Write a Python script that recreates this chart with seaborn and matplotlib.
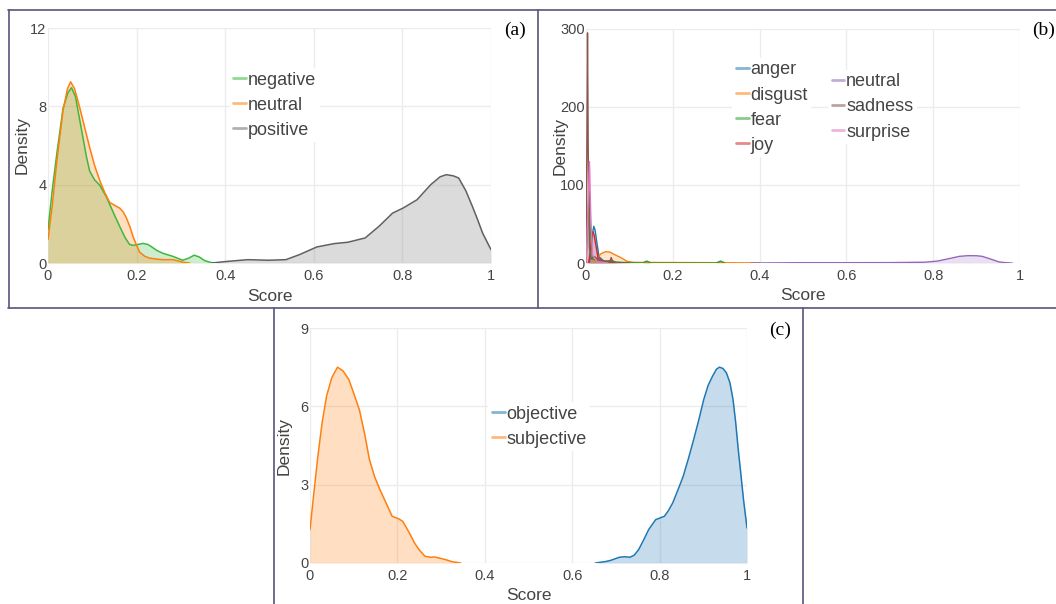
import numpy as np
import matplotlib
matplotlib.use("Agg")
import matplotlib.pyplot as plt
from matplotlib.lines import Line2D
import seaborn as sns

# ---- panel (a): sentiment score densities ----
neg_x = [0, 0.01, 0.02, 0.034, 0.045, 0.053, 0.062, 0.07, 0.079, 0.087, 0.094, 0.105, 0.117,
         0.132, 0.147, 0.162, 0.174, 0.184, 0.192, 0.2, 0.214, 0.225, 0.233, 0.245, 0.259,
         0.27, 0.282, 0.295, 0.304, 0.318, 0.33, 0.342, 0.353, 0.365, 0.375]
neg_y = [1.7, 3.8, 5.6, 7.9, 8.7, 8.95, 8.5, 7.5, 6.4, 5.4, 4.7, 4.25, 3.97,
         3.37, 2.6, 1.86, 1.3, 0.95, 0.9, 0.93, 1.0, 0.95, 0.84, 0.65, 0.5,
         0.42, 0.34, 0.22, 0.14, 0.25, 0.4, 0.3, 0.13, 0.04, 0]
neu_x = [0, 0.01, 0.0195, 0.034, 0.044, 0.051, 0.06, 0.072, 0.083, 0.094, 0.105, 0.117, 0.128,
         0.139, 0.15, 0.162, 0.17, 0.177, 0.185, 0.192, 0.2, 0.207, 0.218, 0.229, 0.245, 0.259,
         0.282, 0.295, 0.304, 0.32]
neu_y = [1.2, 3.0, 5.1, 7.8, 8.9, 9.25, 8.9, 7.9, 6.9, 5.9, 5.0, 4.2, 3.6,
         3.1, 2.95, 2.8, 2.6, 2.3, 1.85, 1.35, 0.9, 0.55, 0.35, 0.25, 0.2, 0.17,
         0.17, 0.1, 0.04, 0]
pos_x = [0.37, 0.404, 0.451, 0.498, 0.537, 0.568, 0.607, 0.646, 0.677, 0.716, 0.747, 0.778,
         0.802, 0.833, 0.864, 0.885, 0.899, 0.915, 0.927, 0.943, 0.958, 0.97, 0.981, 1.0]
pos_y = [0, 0.08, 0.17, 0.14, 0.17, 0.43, 0.82, 0.99, 1.06, 1.28, 1.87, 2.55,
         2.81, 3.23, 4.0, 4.4, 4.51, 4.45, 4.34, 3.7, 2.89, 2.2, 1.53, 0.68]

# ---- panel (b): emotion score densities ----
anger_x = [0.008, 0.012, 0.015, 0.018, 0.021, 0.024, 0.03, 0.04, 0.06, 0.1, 0.135, 0.14, 0.145, 0.2]
anger_y = [0, 20, 38, 47, 42, 30, 8, 3, 1, 0, 0, 1.5, 0, 0]
disgust_x = [0.01, 0.025, 0.035, 0.045, 0.055, 0.065, 0.08, 0.095, 0.11, 0.2, 0.3, 0.4]
disgust_y = [0, 6, 12, 14.5, 14, 11, 7, 2, 0.8, 0.6, 0.4, 0.1]
fear_x = [0, 0.004, 0.007, 0.01, 0.015, 0.03, 0.06, 0.07, 0.13, 0.14, 0.15, 0.3, 0.31, 0.32]
fear_y = [0, 50, 92, 40, 5, 2, 3, 1, 0, 2.5, 0, 0, 2.5, 0]
joy_x = [0.006, 0.01, 0.013, 0.016, 0.019, 0.022, 0.028, 0.04, 0.06, 0.07]
joy_y = [0, 15, 32, 40, 35, 25, 6, 2, 1, 0]
neutral_x = [0.38, 0.5, 0.6, 0.7, 0.78, 0.81, 0.84, 0.86, 0.88, 0.9, 0.913, 0.93, 0.951, 0.965, 0.982]
neutral_y = [0, 0.4, 0.4, 0.5, 1.0, 2.5, 6, 8.5, 9.4, 9.3, 8.5, 5.5, 1.5, 0.5, 0]
sadness_x = [0, 0.002, 0.0035, 0.005, 0.008, 0.012, 0.02, 0.03, 0.045, 0.055, 0.058, 0.062, 0.07, 0.1]
sadness_y = [0, 150, 295, 150, 20, 5, 8, 3, 2, 2, 7, 1, 0.5, 0]
surprise_x = [0, 0.004, 0.008, 0.011, 0.015, 0.025, 0.05]
surprise_y = [0, 60, 130, 60, 10, 2, 0]

# ---- panel (c): subjectivity score densities ----
obj_x = [0.653, 0.675, 0.688, 0.708, 0.72, 0.732, 0.742, 0.752, 0.764, 0.775, 0.791, 0.811,
         0.82, 0.83, 0.842, 0.854, 0.866, 0.878, 0.89, 0.901, 0.911, 0.921, 0.93, 0.937,
         0.945, 0.953, 0.961, 0.968, 0.974, 0.98, 0.986, 0.992, 1.0]
obj_y = [0, 0.05, 0.1, 0.22, 0.24, 0.22, 0.3, 0.51, 0.9, 1.28, 1.66, 1.79,
         2.0, 2.3, 2.8, 3.32, 4.0, 4.73, 5.5, 6.26, 6.8, 7.15, 7.42, 7.5,
         7.45, 7.28, 6.9, 6.26, 5.4, 4.34, 3.4, 2.43, 1.34]
subj_x = [0, 0.009, 0.018, 0.028, 0.038, 0.05, 0.063, 0.076, 0.089, 0.1, 0.113, 0.125, 0.136,
          0.148, 0.16, 0.174, 0.188, 0.203, 0.212, 0.219, 0.229, 0.239, 0.25, 0.263, 0.275,
          0.286, 0.298, 0.31, 0.325, 0.345]
subj_y = [1.28, 2.7, 4.09, 5.4, 6.4, 7.1, 7.5, 7.35, 7.02, 6.5, 5.87, 4.95, 3.96,
          3.3, 2.81, 2.3, 1.79, 1.69, 1.6, 1.4, 1.1, 0.77, 0.5, 0.26, 0.22,
          0.23, 0.18, 0.13, 0.05, 0]

x_ticks = [0, 0.2, 0.4, 0.6, 0.8, 1]
x_ticklabels = ["0", "0.2", "0.4", "0.6", "0.8", "1"]

sns.set_theme(style="white")
plt.rcParams["font.family"] = ["Liberation Sans", "DejaVu Sans"]

W, H = 1056, 604
fig = plt.figure(figsize=(W / 100, H / 100), dpi=100)
TXT = "#444444"


def axes_px(left, top, right, bottom):
    return fig.add_axes([left / W, 1 - bottom / H, (right - left) / W, (bottom - top) / H])


def style_axes(ax, ymax, yticks, w_px):
    ax.set_xlim(0, 1)
    ax.set_ylim(0, ymax)
    ax.set_xticks(x_ticks)
    ax.set_xticklabels(x_ticklabels)
    ax.set_yticks(yticks)
    ax.set_yticklabels([str(t) for t in yticks])
    ax.grid(True, color="#ececec", lw=1)
    ax.set_axisbelow(True)
    for s in ax.spines.values():
        s.set_visible(False)
    ax.tick_params(axis="both", length=0, labelsize=10.5, labelcolor=TXT)
    ax.tick_params(axis="x", pad=4)
    ax.tick_params(axis="y", pad=1)
    ax.set_xlabel("Score", fontsize=12.5, color=TXT)
    ax.set_ylabel("Density", fontsize=12.5, color=TXT)
    ax.xaxis.label.set_va("center")
    ax.yaxis.label.set_va("center")
    ax.xaxis.set_label_coords(0.5, -33 / 235)
    ax.yaxis.set_label_coords(-26 / w_px, 0.5)


def density(ax, xs, ys, color, alpha=0.25, lw=1.1, fill=None):
    sns.lineplot(x=xs, y=ys, ax=ax, color=color, lw=lw, sort=False)
    ax.fill_between(xs, ys, 0, color=fill or color, alpha=alpha, lw=0)


def add_legend(ax, names, colors, anchor):
    handles = [Line2D([0], [0], color=c, lw=2, alpha=0.55) for c in colors]
    leg = ax.legend(handles, names, loc="upper left", bbox_to_anchor=anchor,
                    frameon=True, facecolor="white", edgecolor="none", framealpha=1,
                    fontsize=13, handlelength=0.7, handletextpad=0.1,
                    labelspacing=0.45, borderpad=0.2, borderaxespad=0)
    for t in leg.get_texts():
        t.set_color(TXT)
    return leg


# (a)
ax_a = axes_px(48, 28, 491, 263)
density(ax_a, neg_x, neg_y, "#3cb93c")
density(ax_a, neu_x, neu_y, "#ff7f0e")
density(ax_a, pos_x, pos_y, "#5f5f66", alpha=0.3, fill="#8a8a8a")
style_axes(ax_a, 12, [0, 4, 8, 12], 443)
add_legend(ax_a, ["negative", "neutral", "positive"], ["#3cb93c", "#ff7f0e", "#6e6e7e"],
           (0.41, 0.83))

# (b)
ax_b = axes_px(586, 29, 1020, 263)
emo = [("anger", anger_x, anger_y, "#1f77b4"),
       ("disgust", disgust_x, disgust_y, "#ff7f0e"),
       ("fear", fear_x, fear_y, "#2ca02c"),
       ("joy", joy_x, joy_y, "#d62728"),
       ("neutral", neutral_x, neutral_y, "#9467bd"),
       ("sadness", sadness_x, sadness_y, "#8c564b"),
       ("surprise", surprise_x, surprise_y, "#e377c2")]
for name, xs, ys, c in emo:
    density(ax_b, xs, ys, c, alpha=0.2, lw=1.0)
style_axes(ax_b, 300, [0, 100, 200, 300], 434)
leg1 = add_legend(ax_b, [e[0] for e in emo[:4]], [e[3] for e in emo[:4]], (0.337, 0.877))
ax_b.add_artist(leg1)
add_legend(ax_b, [e[0] for e in emo[4:]], [e[3] for e in emo[4:]], (0.558, 0.826))

# (c)
ax_c = axes_px(310, 328, 747, 563)
density(ax_c, obj_x, obj_y, "#1f77b4")
density(ax_c, subj_x, subj_y, "#ff7f0e")
style_axes(ax_c, 9, [0, 3, 6, 9], 437)
add_legend(ax_c, ["objective", "subjective"], ["#1f77b4", "#ff7f0e"], (0.408, 0.685))

# panel labels
serif = ["Liberation Serif", "DejaVu Serif"]
fig.text(515 / W, 1 - 30 / H, "(a)", ha="center", va="center", family=serif, fontsize=14, color="black")
fig.text(1055 / W, 1 - 30 / H, "(b)", ha="right", va="center", family=serif, fontsize=14, color="black")
fig.text(780 / W, 1 - 330 / H, "(c)", ha="center", va="center", family=serif, fontsize=14, color="black")

# frame lines around the panels
FRAME = "#56567a"
for (x1, y1, x2, y2) in [(8, 10, 1056, 10), (8, 308, 1056, 308), (8.5, 10, 8.5, 308),
                         (537.5, 10, 537.5, 308), (274, 308, 274, 604), (803, 308, 803, 604)]:
    fig.add_artist(Line2D([x1 / W, x2 / W], [1 - y1 / H, 1 - y2 / H],
                          transform=fig.transFigure, color=FRAME, lw=1.2))

fig.savefig("out.png", dpi=100)
